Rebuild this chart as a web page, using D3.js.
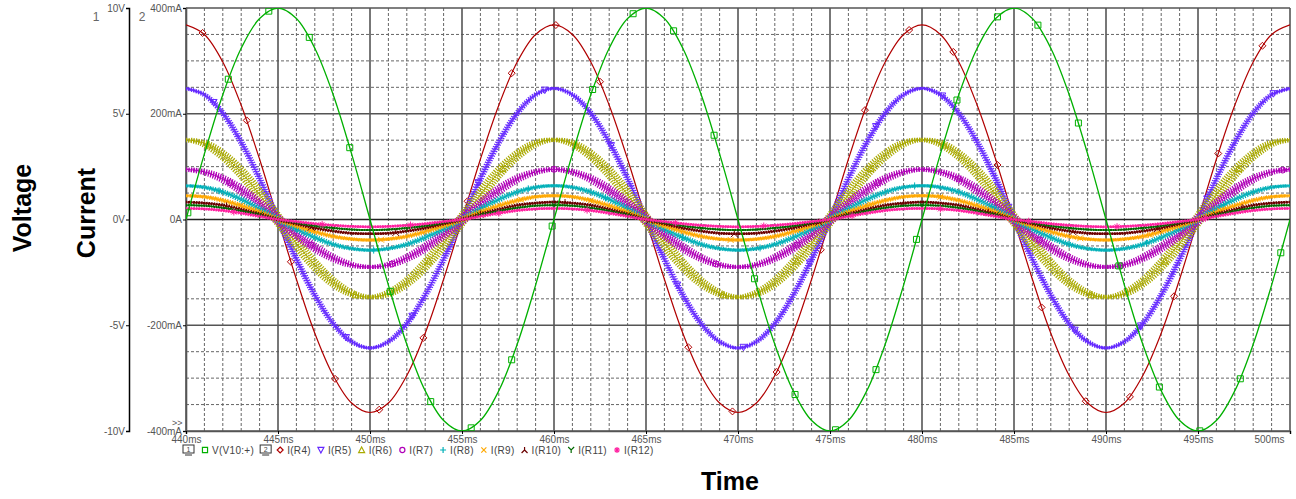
<!DOCTYPE html>
<meta charset="utf-8">
<html>
<head>
<style>
    body { margin: 0; background: #fff; }
    text { font-family: "Liberation Sans", Arial, sans-serif; }
    .tick text { fill: #555; font-size: 10px; }
</style>
<script src="https://d3js.org/d3.v7.min.js"></script>
</head>
<body>
<script>

// Sample times (ms), one reading per ms
var timeMs = d3.range(440, 501);

// V(V10:+) in volts
var vV10 = [0,3.1,5.9,8.1,9.5,10,9.5,8.1,5.9,3.1,0,-3.1,-5.9,-8.1,-9.5,-10,-9.5,-8.1,-5.9,-3.1,
            0,3.1,5.9,8.1,9.5,10,9.5,8.1,5.9,3.1,0,-3.1,-5.9,-8.1,-9.5,-10,-9.5,-8.1,-5.9,-3.1,
            0,3.1,5.9,8.1,9.5,10,9.5,8.1,5.9,3.1,0,-3.1,-5.9,-8.1,-9.5,-10,-9.5,-8.1,-5.9,-3.1,0];

// resistor currents in mA
var iR4 = [368,350,298,216,114,0,-113,-215,-295,-347,-365,-347,-295,-215,-113,0,114,216,298,350,
           368,350,298,216,114,0,-113,-215,-295,-347,-365,-347,-295,-215,-113,0,114,216,298,350,
           368,350,298,216,114,0,-113,-215,-295,-347,-365,-347,-295,-215,-113,0,114,216,298,350,368];
var iR5 = [248,236,201,146,77,0,-75,-143,-197,-231,-243,-231,-197,-143,-75,0,77,146,201,236,
           248,236,201,146,77,0,-75,-143,-197,-231,-243,-231,-197,-143,-75,0,77,146,201,236,
           248,236,201,146,77,0,-75,-143,-197,-231,-243,-231,-197,-143,-75,0,77,146,201,236,248];
var iR6 = [151,144,122,89,47,0,-45,-86,-119,-140,-147,-140,-119,-86,-45,0,47,89,122,144,
           151,144,122,89,47,0,-45,-86,-119,-140,-147,-140,-119,-86,-45,0,47,89,122,144,
           151,144,122,89,47,0,-45,-86,-119,-140,-147,-140,-119,-86,-45,0,47,89,122,144,151];
var iR7 = [95,90,77,56,29,0,-28,-53,-73,-86,-90,-86,-73,-53,-28,0,29,56,77,90,
           95,90,77,56,29,0,-28,-53,-73,-86,-90,-86,-73,-53,-28,0,29,56,77,90,
           95,90,77,56,29,0,-28,-53,-73,-86,-90,-86,-73,-53,-28,0,29,56,77,90,95];
var iR8 = [64,61,52,38,20,0,-18,-34,-47,-55,-58,-55,-47,-34,-18,0,20,38,52,61,
           64,61,52,38,20,0,-18,-34,-47,-55,-58,-55,-47,-34,-18,0,20,38,52,61,
           64,61,52,38,20,0,-18,-34,-47,-55,-58,-55,-47,-34,-18,0,20,38,52,61,64];
var iR9 = [45,43,36,26,14,0,-12,-23,-32,-37,-39,-37,-32,-23,-12,0,14,26,36,43,
           45,43,36,26,14,0,-12,-23,-32,-37,-39,-37,-32,-23,-12,0,14,26,36,43,
           45,43,36,26,14,0,-12,-23,-32,-37,-39,-37,-32,-23,-12,0,14,26,36,43,45];
var iR10 = [33,31,27,19,10,0,-8,-16,-22,-26,-27,-26,-22,-16,-8,0,10,19,27,31,
            33,31,27,19,10,0,-8,-16,-22,-26,-27,-26,-22,-16,-8,0,10,19,27,31,
            33,31,27,19,10,0,-8,-16,-22,-26,-27,-26,-22,-16,-8,0,10,19,27,31,33];
var iR11 = [27,26,22,16,8,0,-6,-12,-16,-19,-20,-19,-16,-12,-6,0,8,16,22,26,
            27,26,22,16,8,0,-6,-12,-16,-19,-20,-19,-16,-12,-6,0,8,16,22,26,
            27,26,22,16,8,0,-6,-12,-16,-19,-20,-19,-16,-12,-6,0,8,16,22,26,27];
var iR12 = [21,20,17,12,6,0,-4,-8,-11,-13,-14,-13,-11,-8,-4,0,6,12,17,20,
            21,20,17,12,6,0,-4,-8,-11,-13,-14,-13,-11,-8,-4,0,6,12,17,20,
            21,20,17,12,6,0,-4,-8,-11,-13,-14,-13,-11,-8,-4,0,6,12,17,20,21];

var currentNames = ["I(R4)","I(R5)","I(R6)","I(R7)","I(R8)","I(R9)","I(R10)","I(R11)","I(R12)"];
var currentValues = [iR4, iR5, iR6, iR7, iR8, iR9, iR10, iR11, iR12];

// tick labels
var timeTicks = [440,445,450,455,460,465,470,475,480,485,490,495,500];
var voltTicks = [-10,-5,0,5,10];
var currTicks = [-400,-200,0,200,400];

// look of each current trace
var colors  = ["#b00000","#6428ff","#aaaa00","#b000b8","#00b0b8","#ffa800","#6b0000","#006a00","#ff20a0"];
var symbols = ["diamond","triDown","triUp","circle","plus","cross","lambda","wye","star"];
var bandHalf  = [0, 2, 5, 5, 4, 4, 3, 2, 3];
var bandWidth = [1.2, 3, 4, 4, 3, 3, 2.5, 2, 2.5];
var markStart = [440.9, 441.5, 441.2, 442.4, 441.8, 443.0, 442.2, 444.0, 442.6];
var markStep  = [2.4, 3.6, 4.0, 4.4, 4.2, 3.8, 4.6, 4.0, 4.8];

var width = 1296, height = 499;
var plot = {left: 186, right: 1290, top: 8, bottom: 431};

var svg = d3.select("body").append("svg")
    .attr("width", width)
    .attr("height", height);

var x = d3.scaleLinear().domain([440, 500]).range([plot.left, plot.right]);
var yV = d3.scaleLinear().domain([-10, 10]).range([plot.bottom, plot.top]);
var yI = d3.scaleLinear().domain([-400, 400]).range([plot.bottom, plot.top]);

svg.append("clipPath").attr("id", "clip")
    .append("rect")
    .attr("x", plot.left).attr("y", plot.top)
    .attr("width", plot.right - plot.left)
    .attr("height", plot.bottom - plot.top);

// Grid: dashed minor lines, solid major lines
var grid = svg.append("g");
grid.selectAll(".vmin")
    .data(d3.range(441, 500).filter(function(d) { return d % 5 != 0; }))
    .enter().append("line")
    .attr("x1", function(d) { return x(d); }).attr("x2", function(d) { return x(d); })
    .attr("y1", plot.top).attr("y2", plot.bottom)
    .attr("stroke", "#666").attr("stroke-dasharray", "3,2").attr("stroke-width", 1);
grid.selectAll(".hmin")
    .data(d3.range(-350, 400, 50).filter(function(d) { return d % 200 != 0; }))
    .enter().append("line")
    .attr("y1", function(d) { return yI(d); }).attr("y2", function(d) { return yI(d); })
    .attr("x1", plot.left).attr("x2", plot.right)
    .attr("stroke", "#666").attr("stroke-dasharray", "3,2").attr("stroke-width", 1);
grid.selectAll(".vmaj")
    .data(timeTicks)
    .enter().append("line")
    .attr("x1", function(d) { return x(d); }).attr("x2", function(d) { return x(d); })
    .attr("y1", plot.top).attr("y2", plot.bottom)
    .attr("stroke", "#555").attr("stroke-width", 1.6);
grid.selectAll(".hmaj")
    .data(currTicks)
    .enter().append("line")
    .attr("y1", function(d) { return yI(d); }).attr("y2", function(d) { return yI(d); })
    .attr("x1", plot.left).attr("x2", plot.right)
    .attr("stroke", function(d) { return d == 0 ? "#222" : "#555"; })
    .attr("stroke-width", 1.6);

// Axes
var axV = svg.append("g")
    .attr("transform", "translate(129,0)")
    .call(d3.axisLeft(yV).tickValues(voltTicks).tickSize(3).tickPadding(1)
        .tickFormat(function(d) { return d + "V"; }));
axV.select(".domain").attr("stroke", "#000").attr("stroke-width", 1.5);

var axI = svg.append("g")
    .attr("transform", "translate(" + plot.left + ",0)")
    .call(d3.axisLeft(yI).tickValues(currTicks).tickSize(3).tickPadding(1)
        .tickFormat(function(d) { return d == 0 ? "0A" : d + "mA"; }));
axI.select(".domain").attr("stroke", "#555").attr("stroke-width", 1.6);

var axT = svg.append("g")
    .attr("transform", "translate(0," + plot.bottom + ")")
    .call(d3.axisBottom(x).tickValues(timeTicks).tickSize(3).tickPadding(2)
        .tickFormat(function(d) { return d + "ms"; }));
axT.select(".domain").attr("stroke", "#555").attr("stroke-width", 1.6);
// last label sits left of the frame edge
axT.selectAll(".tick text")
    .filter(function(d) { return d == 500; })
    .attr("text-anchor", "end").attr("dx", -6);

svg.append("text").attr("x", 96).attr("y", 21).attr("fill", "#666").attr("font-size", 12).attr("text-anchor", "middle").text("1");
svg.append("text").attr("x", 142).attr("y", 21).attr("fill", "#666").attr("font-size", 12).attr("text-anchor", "middle").text("2");
svg.append("text").attr("x", 172).attr("y", 426).attr("fill", "#555").attr("font-size", 9).text(">>");

// Axis titles
svg.append("text")
    .attr("transform", "translate(31,208) rotate(-90)")
    .attr("text-anchor", "middle").attr("font-weight", "bold").attr("font-size", 25)
    .text("Voltage");
svg.append("text")
    .attr("transform", "translate(95,213) rotate(-90)")
    .attr("text-anchor", "middle").attr("font-weight", "bold").attr("font-size", 25)
    .text("Current");
svg.append("text")
    .attr("x", 730).attr("y", 490)
    .attr("text-anchor", "middle").attr("font-weight", "bold").attr("font-size", 25)
    .text("Time");

// Marker shapes
function symbolPath(s) {
    switch (s) {
        case "square":  return "M-3,-3h6v6h-6z";
        case "diamond": return "M0,-3.5L3.5,0L0,3.5L-3.5,0Z";
        case "triDown": return "M-3.5,-3L3.5,-3L0,3.5Z";
        case "triUp":   return "M-3.5,3L3.5,3L0,-3.5Z";
        case "circle":  return "M-3,0a3,3 0 1,0 6,0a3,3 0 1,0 -6,0";
        case "plus":    return "M-3.5,0H3.5M0,-3.5V3.5";
        case "cross":   return "M-3,-3L3,3M-3,3L3,-3";
        case "lambda":  return "M0,-3.5V0M0,0L-3.5,3.5M0,0L3.5,3.5";
        case "wye":     return "M-3.5,-3.5L0,0L3.5,-3.5M0,0V3.5";
        case "star":    return "M-3.5,0H3.5M0,-3.5V3.5M-2.5,-2.5L2.5,2.5M-2.5,2.5L2.5,-2.5";
    }
}

// find the point of a drawn trace at a given x pixel
function pointAtX(node, px) {
    var lo = 0, hi = node.getTotalLength(), p;
    for (var k = 0; k < 30; k++) {
        var mid = (lo + hi) / 2;
        p = node.getPointAtLength(mid);
        if (p.x < px) lo = mid; else hi = mid;
    }
    return p;
}

var traces = svg.append("g").attr("clip-path", "url(#clip)");

function lineFor(scale) {
    return d3.line()
        .x(function(d, i) { return x(timeMs[i]); })
        .y(function(d) { return scale(d); })
        .curve(d3.curveCatmullRom);
}

function addMarkers(node, times, sym, color) {
    traces.selectAll(null)
        .data(times)
        .enter().append("path")
        .attr("d", symbolPath(sym))
        .attr("fill", "none")
        .attr("stroke", color)
        .attr("stroke-width", 1)
        .attr("transform", function(t) {
            var p = pointAtX(node, x(t));
            return "translate(" + p.x + "," + p.y + ")";
        });
}

// Current traces, noisy ones drawn as hatched bands
currentValues.forEach(function(vals, i) {
    var g = traces.append("g");
    var d = lineFor(yI)(vals);
    var h = bandHalf[i];
    if (h > 0) {
        [-h, 0, h].forEach(function(off) {
            g.append("path")
                .attr("d", d)
                .attr("transform", "translate(" + off + ",0)")
                .attr("fill", "none")
                .attr("stroke", colors[i])
                .attr("stroke-width", bandWidth[i])
                .attr("stroke-dasharray", "1.2,1.3");
        });
    }
    var core = g.append("path")
        .attr("d", d)
        .attr("fill", "none")
        .attr("stroke", colors[i])
        .attr("stroke-width", h > 0 ? 1 : 1.2);
    addMarkers(core.node(), d3.range(markStart[i], 500, markStep[i]), symbols[i], colors[i]);
});

// Voltage trace
var vPath = traces.append("path")
    .attr("d", lineFor(yV)(vV10))
    .attr("fill", "none")
    .attr("stroke", "#00b000")
    .attr("stroke-width", 1.3);
addMarkers(vPath.node(), d3.range(440.1, 500, 2.2), "square", "#00b000");

// Legend
var leg = svg.append("g").attr("font-size", 10).attr("fill", "#444");
var lx = 183, ly = 451;

function legendIcon(n) {
    leg.append("rect").attr("x", lx).attr("y", ly - 6).attr("width", 11).attr("height", 8)
        .attr("fill", "none").attr("stroke", "#333");
    leg.append("line").attr("x1", lx + 2).attr("x2", lx + 9).attr("y1", ly + 4).attr("y2", ly + 4)
        .attr("stroke", "#333");
    leg.append("text").attr("x", lx + 5.5).attr("y", ly + 1).attr("font-size", 7)
        .attr("text-anchor", "middle").text(n);
    lx += 22;
}

function legendItem(sym, color, label) {
    leg.append("path").attr("d", symbolPath(sym))
        .attr("transform", "translate(" + lx + "," + (ly - 1) + ") scale(0.85)")
        .attr("fill", "none").attr("stroke", color).attr("stroke-width", 1.4);
    var t = leg.append("text").attr("x", lx + 7).attr("y", ly + 3)
        .attr("letter-spacing", 0.3).text(label);
    lx += 7 + t.node().getComputedTextLength() + 10;
}

legendIcon("1");
legendItem("square", "#00b000", "V(V10:+)");
lx -= 4;
legendIcon("2");
lx -= 2;
currentNames.forEach(function(name, i) { legendItem(symbols[i], colors[i], name); });

</script>
</body>
</html>
